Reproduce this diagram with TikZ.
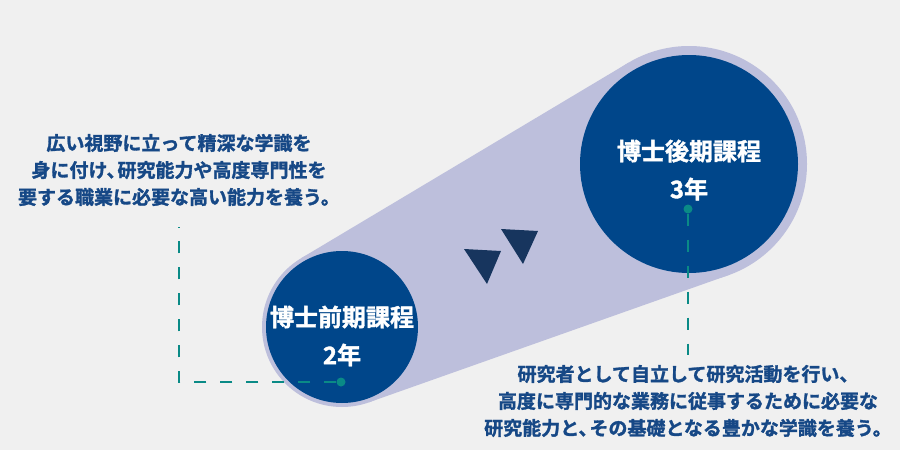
\documentclass[tikz,border=0pt]{standalone}
\usepackage{fontspec}
\newfontfamily\jp{Noto Sans CJK JP}[BoldFont={Noto Sans CJK JP Bold}, BoldFeatures={FakeBold=1.5}]
\definecolor{bgc}{HTML}{F0F0F0}
\definecolor{lav}{HTML}{BDBFDC}
\definecolor{navy}{HTML}{00468A}
\definecolor{txtc}{HTML}{164886}
\definecolor{tri}{HTML}{17355E}
\definecolor{tealc}{HTML}{0A8A86}
\tikzset{
  dark/.style={circle, fill=navy, inner sep=0pt},
  halo/.style={circle, fill=lav, inner sep=0pt},
  dotc/.style={circle, fill=tealc, inner sep=0pt, minimum size=9pt},
  dashline/.style={draw=tealc, line width=2.4pt, dash pattern=on 12pt off 14pt},
  label/.style={font=\jp\bfseries\fontsize{24}{38}\selectfont, text=white, align=center, inner sep=0pt},
  desc/.style={font=\jp\bfseries\fontsize{19}{27}\selectfont, text=txtc, align=center, inner sep=0pt},
  arrowtri/.style={fill=tri}
}
\begin{document}
\begin{tikzpicture}[x=1pt,y=-1pt]
\fill[bgc] (0,0) rectangle (900,450);
\useasboundingbox (0,0) rectangle (900,450);
% lavender hull
\node[halo, minimum size=160pt] (hs) at (342,327) {};
\node[halo, minimum size=236pt] (hl) at (689,164) {};
\fill[lav] (301.0,258.3) -- (628.5,62.7) -- (728.3,275.2) -- (368.7,402.4) -- cycle;
% dark circles
\node[dark, minimum size=152pt] (ms) at (342,327) {};
\node[dark, minimum size=218pt] (dc) at (689,164) {};
% labels
\node[label] (lms) at (342,336) {博士前期課程\\2年};
\node[label] (ldc) at (689,170) {博士後期課程\\3年};
% triangles
\fill[arrowtri] (464,249) -- (501,251) -- (487,284) -- cycle;
\fill[arrowtri] (501,229) -- (538,231) -- (523,264) -- cycle;
% descriptions
\node[desc] (t1) at (179,170) {広い視野に立って精深な学識を\\身に付け、\kern-8pt研究能力や高度専門性を\\要する職業に必要な高い能力を養う。};
\node[desc] (t2) at (688,401) {研究者として自立して研究活動を行い、\\高度に専門的な業務に従事するために必要な\\研究能力と、\kern-8ptその基礎となる豊かな学識を養う。};
% connectors
\node[dotc] (d1) at (341,382) {};
\node[dotc] (d2) at (688,209) {};
\coordinate (c1) at (179,382);
\coordinate (e1) at (179,227);
\coordinate (e2) at (688,355);
\draw[dashline] (d1) -- (c1) -- (e1);
\draw[dashline] (d2) -- (e2);
\end{tikzpicture}
\end{document}
